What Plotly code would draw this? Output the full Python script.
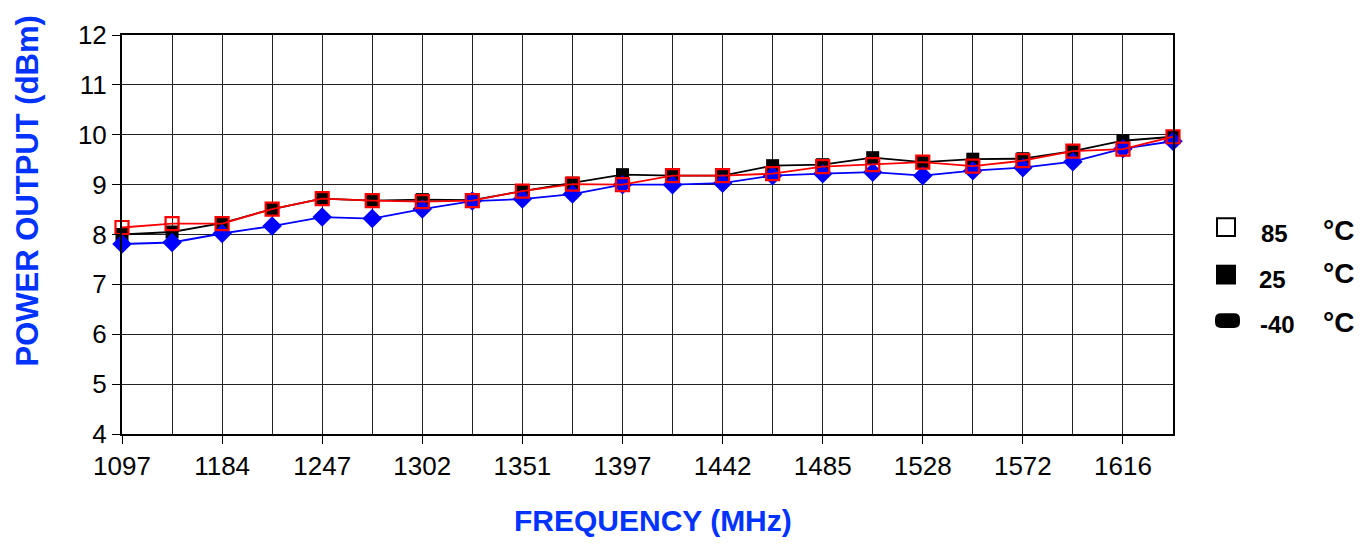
import plotly.graph_objects as go

# Data: 22 measurement points; only every other point carries a frequency label
point_index = list(range(22))
tick_positions = [0, 2, 4, 6, 8, 10, 12, 14, 16, 18, 20]
tick_labels = ["1097", "1184", "1247", "1302", "1351", "1397", "1442", "1485", "1528", "1572", "1616"]

p_85c = [8.14, 8.22, 8.22, 8.51, 8.72, 8.68, 8.66, 8.68, 8.87, 9.01, 9.00,
         9.18, 9.18, 9.22, 9.36, 9.40, 9.45, 9.37, 9.48, 9.67, 9.71, 9.96]
p_25c = [8.00, 8.05, 8.23, 8.51, 8.72, 8.68, 8.70, 8.69, 8.87, 9.03, 9.20,
         9.18, 9.18, 9.38, 9.40, 9.54, 9.45, 9.51, 9.52, 9.67, 9.88, 9.96]
p_m40c = [7.81, 7.84, 8.02, 8.17, 8.35, 8.32, 8.51, 8.67, 8.71, 8.81, 9.00,
          9.00, 9.03, 9.18, 9.22, 9.25, 9.18, 9.28, 9.34, 9.46, 9.72, 9.87]

FONT = "Liberation Sans, Arial, sans-serif"
BLUE_TITLE = "#0033FF"

fig = go.Figure()
fig.add_trace(go.Scatter(
    x=point_index, y=p_25c, mode="lines+markers", name="25 °C",
    line=dict(color="black", width=1.8),
    marker=dict(symbol="square", size=13, color="black"),
    cliponaxis=False))
fig.add_trace(go.Scatter(
    x=point_index, y=p_m40c, mode="lines+markers", name="-40 °C",
    line=dict(color="#0000FF", width=1.8),
    marker=dict(symbol="diamond", size=15, color="#0000FF"),
    cliponaxis=False))
fig.add_trace(go.Scatter(
    x=point_index, y=p_85c, mode="lines+markers", name="85 °C",
    line=dict(color="#FF0000", width=1.8),
    marker=dict(symbol="square-open", size=13, color="#FF0000", line=dict(width=2.2)),
    cliponaxis=False))

OFF = 8  # page body margin
W, H = 1368 - 2 * OFF, 548 - 2 * OFF
# target plot area in page pixels: x 122..1173, y 31..434
PX0, PX1, PY0, PY1 = 122, 1173, 31, 434
L = PX0 - OFF
T = PY0 - OFF
R = (OFF + W) - PX1
B = (OFF + H) - PY1
pw, ph = PX1 - PX0, PY1 - PY0


def px(xp):
    return (xp - PX0) / pw


def py(yp):
    return (PY1 - yp) / ph


fig.update_layout(
    width=W, height=H,
    margin=dict(l=L, r=R, t=T, b=B),
    paper_bgcolor="white", plot_bgcolor="white",
    showlegend=False,
    font=dict(family=FONT, color="black", size=26),
    xaxis=dict(
        range=[0, 21], tickmode="array", tickvals=tick_positions, ticktext=tick_labels,
        ticks="outside", ticklen=8, tickwidth=1, tickcolor="black",
        showgrid=True, gridcolor="#222222", gridwidth=1,
        minor=dict(tick0=0, dtick=1, showgrid=True, gridcolor="#222222", gridwidth=1, ticks=""),
        showline=True, linecolor="black", linewidth=2, mirror=True,
        zeroline=False, tickfont=dict(size=26, family=FONT, color="black"),
    ),
    yaxis=dict(
        range=[4, 12], tickmode="linear", tick0=4, dtick=1,
        ticks="outside", ticklen=8, tickwidth=1, tickcolor="black",
        showgrid=True, gridcolor="#222222", gridwidth=1,
        showline=True, linecolor="black", linewidth=2, mirror=True,
        zeroline=False, tickfont=dict(size=26, family=FONT, color="black"),
    ),
)


def ann(text, x, y, size, color="black", angle=0):
    return dict(text=text, x=px(x), y=py(y), xref="paper", yref="paper",
                xanchor="center", yanchor="middle", showarrow=False, textangle=angle,
                font=dict(size=size, color=color, family=FONT))


annotations = [
    ann("<b>FREQUENCY (MHz)</b>", 653, 521, 30, BLUE_TITLE),
    ann("<b>POWER OUTPUT (dBm)</b>", 27, 189, 31, BLUE_TITLE, -90),
]
legend_rows = [("85", 1274, 231, 228), ("25", 1272, 278, 272), ("-40", 1277, 323, 321)]
for label, lx, ly, cy in legend_rows:
    annotations.append(ann("<b>" + label + "</b>", lx, ly, 24))
    annotations.append(ann("<b>°C</b>", 1338, cy, 28))
fig.update_layout(annotations=annotations)

shapes = [
    dict(type="rect", xref="paper", yref="paper", x0=px(1217), x1=px(1235), y0=py(234), y1=py(216),
         line=dict(color="black", width=2), fillcolor="white"),
    dict(type="rect", xref="paper", yref="paper", x0=px(1216), x1=px(1236), y0=py(283), y1=py(263),
         line=dict(color="black", width=0), fillcolor="black"),
]
# rounded blob marker for -40 row
x0, x1, y0, y1 = 1215, 1240, 312, 327
r = 6
path = (f"M {px(x0 + r)} {py(y0)} L {px(x1 - r)} {py(y0)} "
        f"Q {px(x1)} {py(y0)} {px(x1)} {py(y0 + r)} L {px(x1)} {py(y1 - r)} "
        f"Q {px(x1)} {py(y1)} {px(x1 - r)} {py(y1)} L {px(x0 + r)} {py(y1)} "
        f"Q {px(x0)} {py(y1)} {px(x0)} {py(y1 - r)} L {px(x0)} {py(y0 + r)} "
        f"Q {px(x0)} {py(y0)} {px(x0 + r)} {py(y0)} Z")
shapes.append(dict(type="path", xref="paper", yref="paper", path=path,
                   fillcolor="black", line=dict(color="black", width=0)))
fig.update_layout(shapes=shapes)

fig.write_html("out.html")
